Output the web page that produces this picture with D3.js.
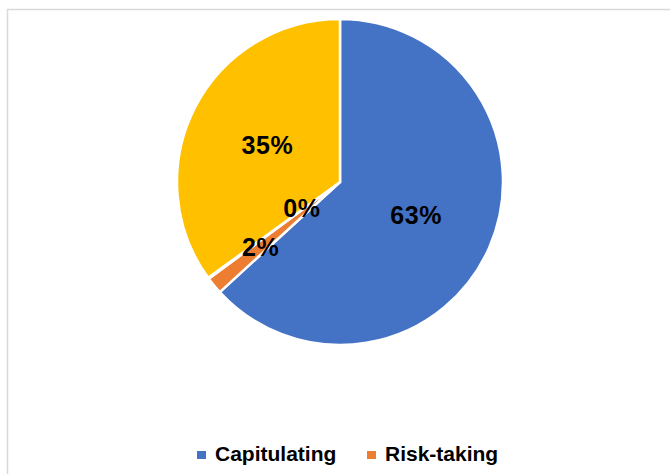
<html>
<body style="margin:0;background:#fff">
<svg width="670" height="474"></svg>
</body>
<style>
  text { font-family: "Liberation Sans", Arial, sans-serif; font-weight: bold; fill: #000; }
</style>
<script src="https://d3js.org/d3.v7.min.js"></script>
<script>
// data
var categories = ["Capitulating", "Risk-taking", "Series 3", "Series 4"];
var values = [63.2, 1.7, 0.1, 35.0];
var labels = ["63%", "2%", "0%", "35%"];
var legendShown = 2; // the rest of the legend is cut off below the picture

var colors = ["#4472C4", "#ED7D31", "#A5A5A5", "#FFC000"];

var svg = d3.select("svg");

// chart frame (runs off the right and bottom edges)
svg.append("rect")
  .attr("x", 7.5).attr("y", 9.5)
  .attr("width", 700).attr("height", 500)
  .attr("fill", "#fff")
  .attr("stroke", "#d9d9d9")
  .attr("stroke-width", 1.5);

var cx = 340, cy = 182, r = 163;
var g = svg.append("g").attr("transform", "translate(" + cx + "," + cy + ")");

var data = categories.map(function (c, i) { return { name: c, value: values[i], label: labels[i], i: i }; });

var pie = d3.pie().sort(null).value(function (d) { return d.value; });
var arc = d3.arc().innerRadius(0).outerRadius(r);
var arcs = pie(data);

g.selectAll("path")
  .data(arcs)
  .enter().append("path")
  .attr("d", arc)
  .attr("fill", function (d) { return colors[d.data.i]; })
  .attr("stroke", "#fff")
  .attr("stroke-width", 2.5)
  .attr("stroke-linejoin", "round");

// label radius as fraction of r (excel nudges the tiny ones)
var labelFrac = [0.51, 0.63, 0.29, 0.5];
var labelShift = [[0, 0], [0, 0], [0, -2], [0, 0]];

g.selectAll(".lbl")
  .data(arcs)
  .enter().append("text")
  .attr("class", "lbl")
  .attr("text-anchor", "middle")
  .attr("dy", "0.35em")
  .style("font-size", "25px")
  .style("letter-spacing", "0.5px")
  .attr("transform", function (d) {
    var k = labelFrac[d.data.i] * r;
    var c = d3.arc().innerRadius(k).outerRadius(k).centroid(d);
    return "translate(" + (c[0] + labelShift[d.data.i][0]) + "," + (c[1] + labelShift[d.data.i][1]) + ")";
  })
  .text(function (d) { return d.data.label; });

// legend
var leg = svg.append("g").attr("transform", "translate(197,455)");
var legX = [0, 170];
data.slice(0, legendShown).forEach(function (d, i) {
  var item = leg.append("g").attr("transform", "translate(" + legX[i] + ",0)");
  item.append("rect")
    .attr("x", 0).attr("y", -4)
    .attr("width", 9).attr("height", 8)
    .attr("fill", colors[d.i]);
  item.append("text")
    .attr("x", 18).attr("y", 6)
    .style("font-size", "21px")
    .text(d.name);
});
</script>
</html>
